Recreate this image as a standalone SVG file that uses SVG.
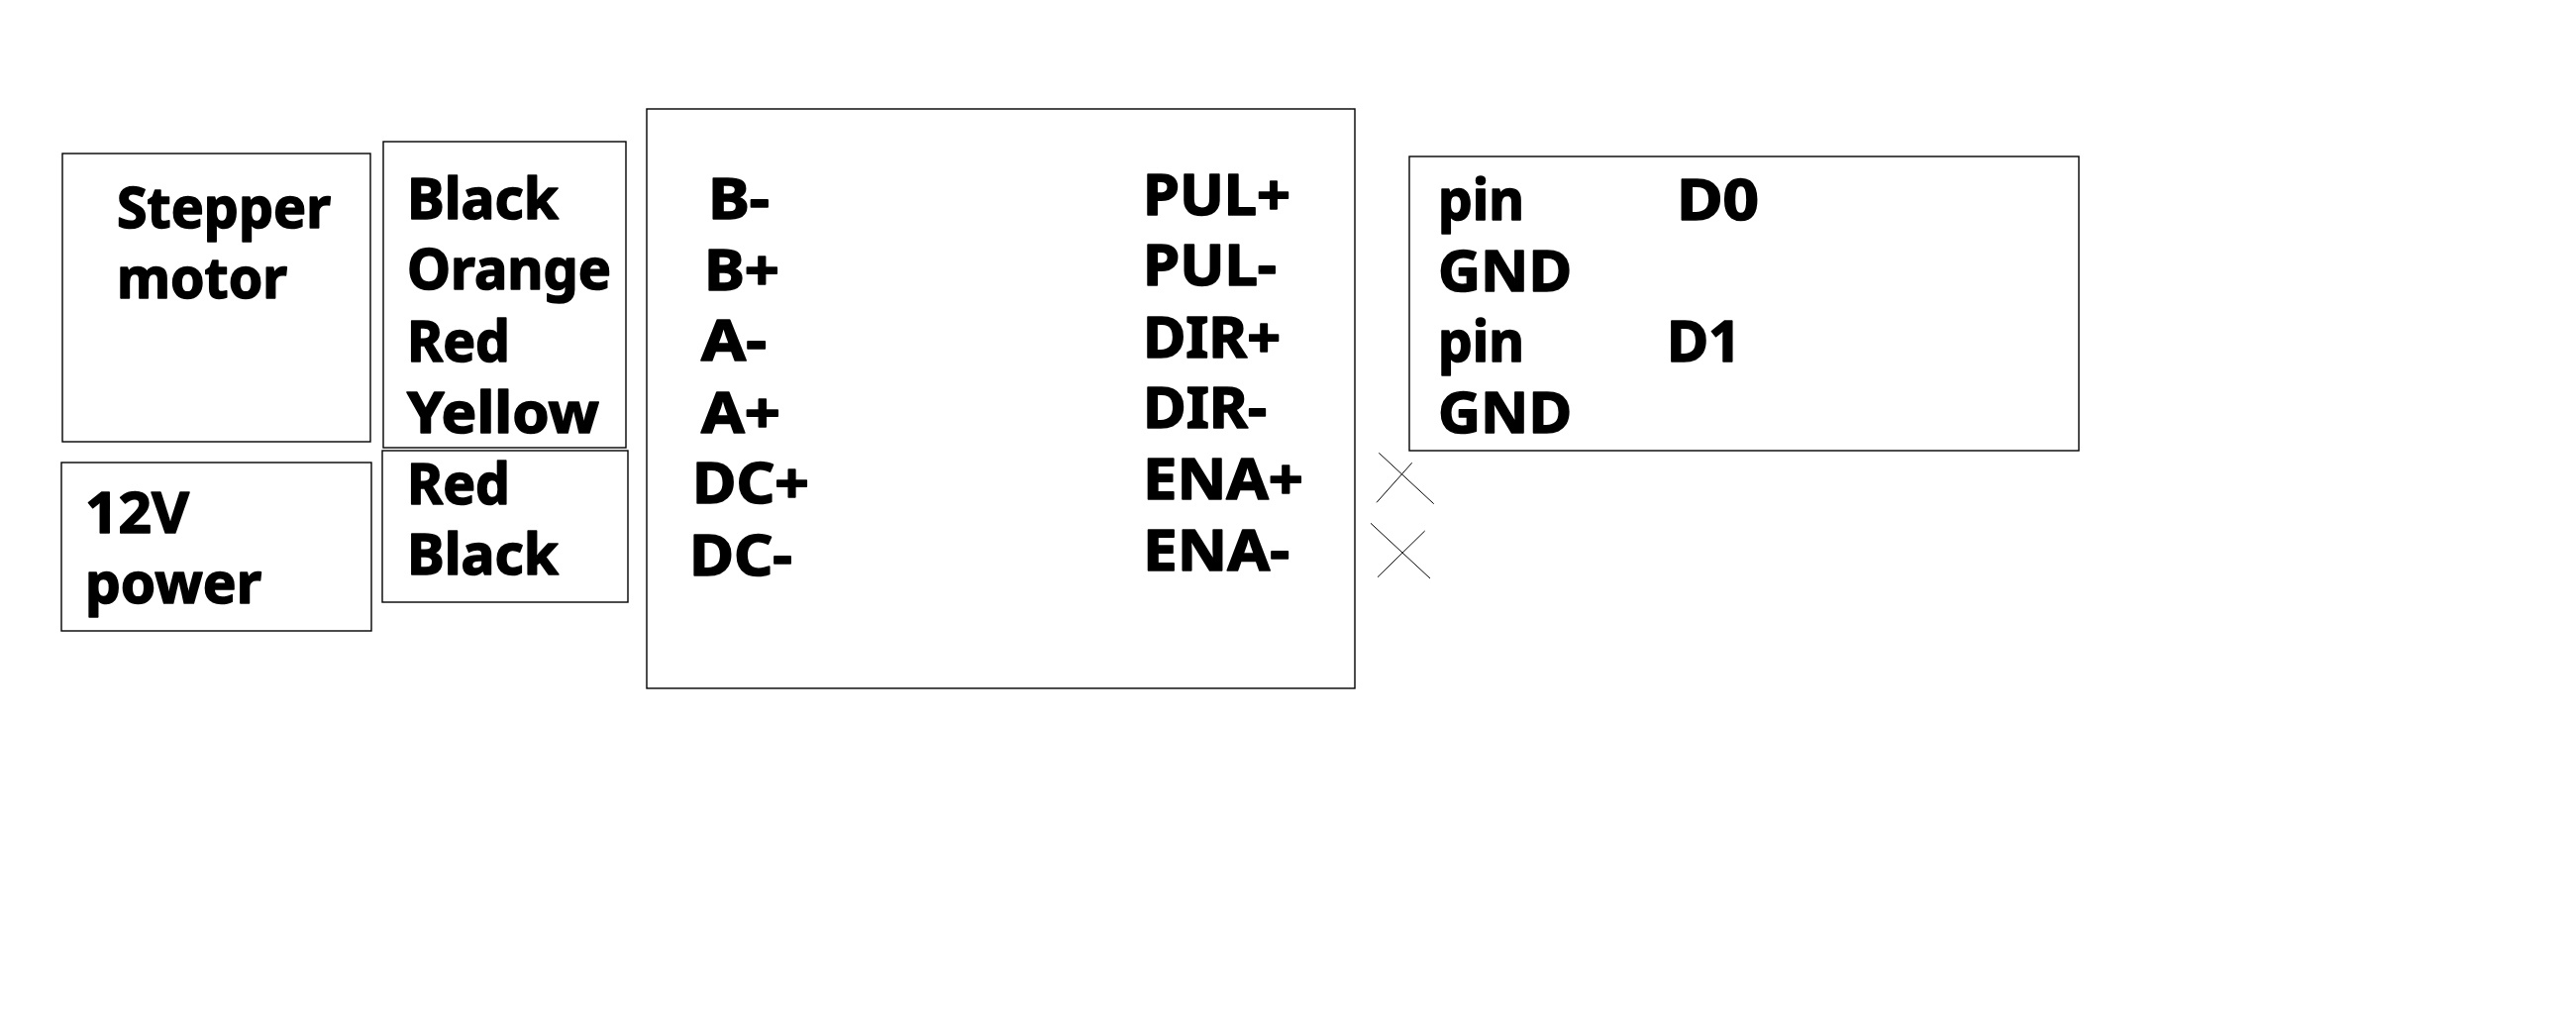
<svg xmlns="http://www.w3.org/2000/svg" width="2601" height="1044" viewBox="0 0 2601 1044">
<style>
.box{fill:none;stroke:#000;stroke-width:1.4}
.t{font-family:"Noto Sans","Open Sans","Liberation Sans",sans-serif;font-weight:700;font-size:58px;fill:#000;stroke:#000;stroke-width:1.6;stroke-linejoin:round}
.x{stroke:#000;stroke-width:1;fill:none}
</style>
<rect width="2601" height="1044" fill="#fff"/>
<g id="stepper-motor">
<rect class="box" x="63" y="155" width="311" height="291"/>
<text class="t" x="118" y="230" textLength="216" lengthAdjust="spacingAndGlyphs">Stepper</text>
<text class="t" x="118" y="301" textLength="172" lengthAdjust="spacingAndGlyphs">motor</text>
</g>
<g id="power">
<rect class="box" x="62" y="467" width="313" height="170"/>
<text class="t" x="86" y="538" textLength="105" lengthAdjust="spacingAndGlyphs">12V</text>
<text class="t" x="86" y="609" textLength="178" lengthAdjust="spacingAndGlyphs">power</text>
</g>
<g id="motor-wires">
<rect class="box" x="387" y="143" width="245" height="309"/>
<text class="t" x="411" y="221" textLength="153" lengthAdjust="spacingAndGlyphs">Black</text>
<text class="t" x="411" y="292" textLength="206" lengthAdjust="spacingAndGlyphs">Orange</text>
<text class="t" x="411" y="365" textLength="104" lengthAdjust="spacingAndGlyphs">Red</text>
<text class="t" x="411" y="437" textLength="194" lengthAdjust="spacingAndGlyphs">Yellow</text>
</g>
<g id="power-wires">
<rect class="box" x="386" y="455" width="248" height="153"/>
<text class="t" x="411" y="509" textLength="104" lengthAdjust="spacingAndGlyphs">Red</text>
<text class="t" x="411" y="580" textLength="153" lengthAdjust="spacingAndGlyphs">Black</text>
</g>
<g id="driver">
<rect class="box" x="653" y="110" width="715" height="585"/>
<text class="t" x="715" y="221" textLength="62" lengthAdjust="spacingAndGlyphs">B-</text>
<text class="t" x="711" y="293" textLength="76" lengthAdjust="spacingAndGlyphs">B+</text>
<text class="t" x="708" y="364" textLength="66" lengthAdjust="spacingAndGlyphs">A-</text>
<text class="t" x="708" y="437" textLength="80" lengthAdjust="spacingAndGlyphs">A+</text>
<text class="t" x="699" y="508" textLength="118" lengthAdjust="spacingAndGlyphs">DC+</text>
<text class="t" x="696" y="581" textLength="104" lengthAdjust="spacingAndGlyphs">DC-</text>
<text class="t" x="1154" y="217" textLength="149" lengthAdjust="spacingAndGlyphs">PUL+</text>
<text class="t" x="1154" y="288" textLength="135" lengthAdjust="spacingAndGlyphs">PUL-</text>
<text class="t" x="1154" y="361" textLength="139" lengthAdjust="spacingAndGlyphs">DIR+</text>
<text class="t" x="1154" y="432" textLength="125" lengthAdjust="spacingAndGlyphs">DIR-</text>
<text class="t" x="1154" y="504" textLength="162" lengthAdjust="spacingAndGlyphs">ENA+</text>
<text class="t" x="1154" y="576" textLength="148" lengthAdjust="spacingAndGlyphs">ENA-</text>
</g>
<g id="controller">
<rect class="box" x="1423" y="158" width="676" height="297"/>
<text class="t" x="1452" y="222" textLength="87" lengthAdjust="spacingAndGlyphs">pin</text>
<text class="t" x="1693" y="222" textLength="83" lengthAdjust="spacingAndGlyphs">D0</text>
<text class="t" x="1452" y="294" textLength="135" lengthAdjust="spacingAndGlyphs">GND</text>
<text class="t" x="1452" y="365" textLength="87" lengthAdjust="spacingAndGlyphs">pin</text>
<text class="t" x="1683" y="365" textLength="75" lengthAdjust="spacingAndGlyphs">D1</text>
<text class="t" x="1452" y="437" textLength="135" lengthAdjust="spacingAndGlyphs">GND</text>
</g>
<g id="connectors">
<line class="x" x1="1392.3" y1="457.3" x2="1447.7" y2="508.7"/>
<line class="x" x1="1425.7" y1="467.3" x2="1390" y2="507.3"/>
<line class="x" x1="1384" y1="528.3" x2="1444" y2="584"/>
<line class="x" x1="1438.7" y1="536" x2="1391" y2="582.7"/>
</g>
</svg>
